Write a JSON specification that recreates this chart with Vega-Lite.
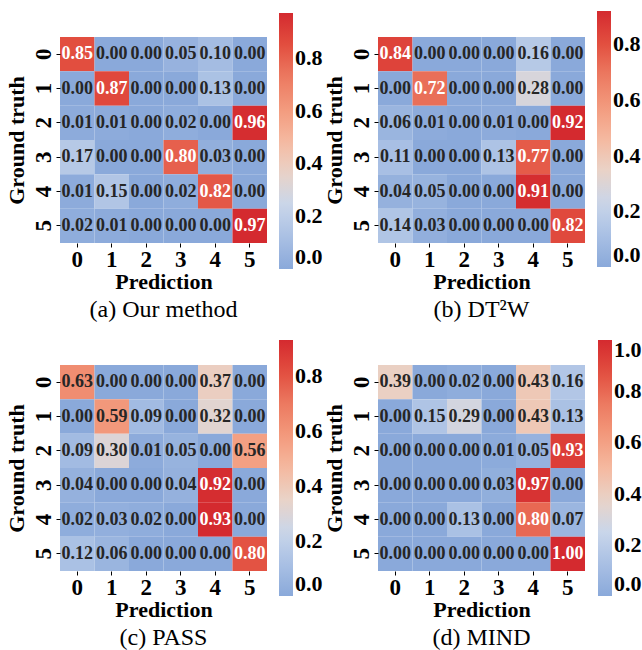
{
  "$schema": "https://vega.github.io/schema/vega-lite/v6.json",
  "background": "white",
  "padding": {"top": 11, "left": 5, "right": 5, "bottom": 5},
  "data": {"values": [
    {"m":"a","gt":0,"pred":0,"v":0.85},{"m":"a","gt":0,"pred":1,"v":0.00},{"m":"a","gt":0,"pred":2,"v":0.00},{"m":"a","gt":0,"pred":3,"v":0.05},{"m":"a","gt":0,"pred":4,"v":0.10},{"m":"a","gt":0,"pred":5,"v":0.00},
    {"m":"a","gt":1,"pred":0,"v":0.00},{"m":"a","gt":1,"pred":1,"v":0.87},{"m":"a","gt":1,"pred":2,"v":0.00},{"m":"a","gt":1,"pred":3,"v":0.00},{"m":"a","gt":1,"pred":4,"v":0.13},{"m":"a","gt":1,"pred":5,"v":0.00},
    {"m":"a","gt":2,"pred":0,"v":0.01},{"m":"a","gt":2,"pred":1,"v":0.01},{"m":"a","gt":2,"pred":2,"v":0.00},{"m":"a","gt":2,"pred":3,"v":0.02},{"m":"a","gt":2,"pred":4,"v":0.00},{"m":"a","gt":2,"pred":5,"v":0.96},
    {"m":"a","gt":3,"pred":0,"v":0.17},{"m":"a","gt":3,"pred":1,"v":0.00},{"m":"a","gt":3,"pred":2,"v":0.00},{"m":"a","gt":3,"pred":3,"v":0.80},{"m":"a","gt":3,"pred":4,"v":0.03},{"m":"a","gt":3,"pred":5,"v":0.00},
    {"m":"a","gt":4,"pred":0,"v":0.01},{"m":"a","gt":4,"pred":1,"v":0.15},{"m":"a","gt":4,"pred":2,"v":0.00},{"m":"a","gt":4,"pred":3,"v":0.02},{"m":"a","gt":4,"pred":4,"v":0.82},{"m":"a","gt":4,"pred":5,"v":0.00},
    {"m":"a","gt":5,"pred":0,"v":0.02},{"m":"a","gt":5,"pred":1,"v":0.01},{"m":"a","gt":5,"pred":2,"v":0.00},{"m":"a","gt":5,"pred":3,"v":0.00},{"m":"a","gt":5,"pred":4,"v":0.00},{"m":"a","gt":5,"pred":5,"v":0.97},

    {"m":"b","gt":0,"pred":0,"v":0.84},{"m":"b","gt":0,"pred":1,"v":0.00},{"m":"b","gt":0,"pred":2,"v":0.00},{"m":"b","gt":0,"pred":3,"v":0.00},{"m":"b","gt":0,"pred":4,"v":0.16},{"m":"b","gt":0,"pred":5,"v":0.00},
    {"m":"b","gt":1,"pred":0,"v":0.00},{"m":"b","gt":1,"pred":1,"v":0.72},{"m":"b","gt":1,"pred":2,"v":0.00},{"m":"b","gt":1,"pred":3,"v":0.00},{"m":"b","gt":1,"pred":4,"v":0.28},{"m":"b","gt":1,"pred":5,"v":0.00},
    {"m":"b","gt":2,"pred":0,"v":0.06},{"m":"b","gt":2,"pred":1,"v":0.01},{"m":"b","gt":2,"pred":2,"v":0.00},{"m":"b","gt":2,"pred":3,"v":0.01},{"m":"b","gt":2,"pred":4,"v":0.00},{"m":"b","gt":2,"pred":5,"v":0.92},
    {"m":"b","gt":3,"pred":0,"v":0.11},{"m":"b","gt":3,"pred":1,"v":0.00},{"m":"b","gt":3,"pred":2,"v":0.00},{"m":"b","gt":3,"pred":3,"v":0.13},{"m":"b","gt":3,"pred":4,"v":0.77},{"m":"b","gt":3,"pred":5,"v":0.00},
    {"m":"b","gt":4,"pred":0,"v":0.04},{"m":"b","gt":4,"pred":1,"v":0.05},{"m":"b","gt":4,"pred":2,"v":0.00},{"m":"b","gt":4,"pred":3,"v":0.00},{"m":"b","gt":4,"pred":4,"v":0.91},{"m":"b","gt":4,"pred":5,"v":0.00},
    {"m":"b","gt":5,"pred":0,"v":0.14},{"m":"b","gt":5,"pred":1,"v":0.03},{"m":"b","gt":5,"pred":2,"v":0.00},{"m":"b","gt":5,"pred":3,"v":0.00},{"m":"b","gt":5,"pred":4,"v":0.00},{"m":"b","gt":5,"pred":5,"v":0.82},

    {"m":"c","gt":0,"pred":0,"v":0.63},{"m":"c","gt":0,"pred":1,"v":0.00},{"m":"c","gt":0,"pred":2,"v":0.00},{"m":"c","gt":0,"pred":3,"v":0.00},{"m":"c","gt":0,"pred":4,"v":0.37},{"m":"c","gt":0,"pred":5,"v":0.00},
    {"m":"c","gt":1,"pred":0,"v":0.00},{"m":"c","gt":1,"pred":1,"v":0.59},{"m":"c","gt":1,"pred":2,"v":0.09},{"m":"c","gt":1,"pred":3,"v":0.00},{"m":"c","gt":1,"pred":4,"v":0.32},{"m":"c","gt":1,"pred":5,"v":0.00},
    {"m":"c","gt":2,"pred":0,"v":0.09},{"m":"c","gt":2,"pred":1,"v":0.30},{"m":"c","gt":2,"pred":2,"v":0.01},{"m":"c","gt":2,"pred":3,"v":0.05},{"m":"c","gt":2,"pred":4,"v":0.00},{"m":"c","gt":2,"pred":5,"v":0.56},
    {"m":"c","gt":3,"pred":0,"v":0.04},{"m":"c","gt":3,"pred":1,"v":0.00},{"m":"c","gt":3,"pred":2,"v":0.00},{"m":"c","gt":3,"pred":3,"v":0.04},{"m":"c","gt":3,"pred":4,"v":0.92},{"m":"c","gt":3,"pred":5,"v":0.00},
    {"m":"c","gt":4,"pred":0,"v":0.02},{"m":"c","gt":4,"pred":1,"v":0.03},{"m":"c","gt":4,"pred":2,"v":0.02},{"m":"c","gt":4,"pred":3,"v":0.00},{"m":"c","gt":4,"pred":4,"v":0.93},{"m":"c","gt":4,"pred":5,"v":0.00},
    {"m":"c","gt":5,"pred":0,"v":0.12},{"m":"c","gt":5,"pred":1,"v":0.06},{"m":"c","gt":5,"pred":2,"v":0.00},{"m":"c","gt":5,"pred":3,"v":0.00},{"m":"c","gt":5,"pred":4,"v":0.00},{"m":"c","gt":5,"pred":5,"v":0.80},

    {"m":"d","gt":0,"pred":0,"v":0.39},{"m":"d","gt":0,"pred":1,"v":0.00},{"m":"d","gt":0,"pred":2,"v":0.02},{"m":"d","gt":0,"pred":3,"v":0.00},{"m":"d","gt":0,"pred":4,"v":0.43},{"m":"d","gt":0,"pred":5,"v":0.16},
    {"m":"d","gt":1,"pred":0,"v":0.00},{"m":"d","gt":1,"pred":1,"v":0.15},{"m":"d","gt":1,"pred":2,"v":0.29},{"m":"d","gt":1,"pred":3,"v":0.00},{"m":"d","gt":1,"pred":4,"v":0.43},{"m":"d","gt":1,"pred":5,"v":0.13},
    {"m":"d","gt":2,"pred":0,"v":0.00},{"m":"d","gt":2,"pred":1,"v":0.00},{"m":"d","gt":2,"pred":2,"v":0.00},{"m":"d","gt":2,"pred":3,"v":0.01},{"m":"d","gt":2,"pred":4,"v":0.05},{"m":"d","gt":2,"pred":5,"v":0.93},
    {"m":"d","gt":3,"pred":0,"v":0.00},{"m":"d","gt":3,"pred":1,"v":0.00},{"m":"d","gt":3,"pred":2,"v":0.00},{"m":"d","gt":3,"pred":3,"v":0.03},{"m":"d","gt":3,"pred":4,"v":0.97},{"m":"d","gt":3,"pred":5,"v":0.00},
    {"m":"d","gt":4,"pred":0,"v":0.00},{"m":"d","gt":4,"pred":1,"v":0.00},{"m":"d","gt":4,"pred":2,"v":0.13},{"m":"d","gt":4,"pred":3,"v":0.00},{"m":"d","gt":4,"pred":4,"v":0.80},{"m":"d","gt":4,"pred":5,"v":0.07},
    {"m":"d","gt":5,"pred":0,"v":0.00},{"m":"d","gt":5,"pred":1,"v":0.00},{"m":"d","gt":5,"pred":2,"v":0.00},{"m":"d","gt":5,"pred":3,"v":0.00},{"m":"d","gt":5,"pred":4,"v":0.00},{"m":"d","gt":5,"pred":5,"v":1.00}
  ]},
  "columns": 2,
  "concat": [
    {
      "width": 207, "height": 206,
      "title": {"text": "(a) Our method"},
      "transform": [{"filter": "datum.m == 'a'"}],
      "encoding": {
        "x": {"field": "pred", "type": "ordinal", "title": "Prediction"},
        "y": {"field": "gt", "type": "ordinal", "title": "Ground truth"}
      },
      "layer": [
        {"mark": "rect", "encoding": {"color": {"field": "v", "type": "quantitative",
          "scale": {"domain": [0, 0.97], "interpolate": "rgb", "range": ["#8aa9da", "#a9c0e4", "#c9d6ea", "#e9d3c8", "#f5b9a0", "#f39a7d", "#ec7a61", "#e24e3f", "#d42a2f"]},
          "legend": {"values": [0, 0.2, 0.4, 0.6, 0.8], "legendX": 219, "legendY": -24}}}},
        {"mark": {"type": "text"}, "encoding": {"text": {"field": "v", "type": "quantitative", "format": ".2f"},
          "color": {"condition": {"test": "datum.v > 0.65", "value": "white"}, "value": "#262626"}}}
      ]
    },
    {
      "width": 207, "height": 206,
      "title": {"text": "(b) DT²W"},
      "transform": [{"filter": "datum.m == 'b'"}],
      "encoding": {
        "x": {"field": "pred", "type": "ordinal", "title": "Prediction"},
        "y": {"field": "gt", "type": "ordinal", "title": "Ground truth"}
      },
      "layer": [
        {"mark": "rect", "encoding": {"color": {"field": "v", "type": "quantitative",
          "scale": {"domain": [0, 0.92], "interpolate": "rgb", "range": ["#8aa9da", "#a9c0e4", "#c9d6ea", "#e9d3c8", "#f5b9a0", "#f39a7d", "#ec7a61", "#e24e3f", "#d42a2f"]},
          "legend": {"values": [0, 0.2, 0.4, 0.6, 0.8], "legendX": 219, "legendY": -26}}}},
        {"mark": {"type": "text"}, "encoding": {"text": {"field": "v", "type": "quantitative", "format": ".2f"},
          "color": {"condition": {"test": "datum.v > 0.65", "value": "white"}, "value": "#262626"}}}
      ]
    },
    {
      "width": 207, "height": 206,
      "title": {"text": "(c) PASS"},
      "transform": [{"filter": "datum.m == 'c'"}],
      "encoding": {
        "x": {"field": "pred", "type": "ordinal", "title": "Prediction"},
        "y": {"field": "gt", "type": "ordinal", "title": "Ground truth"}
      },
      "layer": [
        {"mark": "rect", "encoding": {"color": {"field": "v", "type": "quantitative",
          "scale": {"domain": [0, 0.93], "interpolate": "rgb", "range": ["#8aa9da", "#a9c0e4", "#c9d6ea", "#e9d3c8", "#f5b9a0", "#f39a7d", "#ec7a61", "#e24e3f", "#d42a2f"]},
          "legend": {"values": [0, 0.2, 0.4, 0.6, 0.8], "legendX": 219, "legendY": -25}}}},
        {"mark": {"type": "text"}, "encoding": {"text": {"field": "v", "type": "quantitative", "format": ".2f"},
          "color": {"condition": {"test": "datum.v > 0.65", "value": "white"}, "value": "#262626"}}}
      ]
    },
    {
      "width": 207, "height": 206,
      "title": {"text": "(d) MIND"},
      "transform": [{"filter": "datum.m == 'd'"}],
      "encoding": {
        "x": {"field": "pred", "type": "ordinal", "title": "Prediction"},
        "y": {"field": "gt", "type": "ordinal", "title": "Ground truth"}
      },
      "layer": [
        {"mark": "rect", "encoding": {"color": {"field": "v", "type": "quantitative",
          "scale": {"domain": [0, 1.0], "interpolate": "rgb", "range": ["#8aa9da", "#a9c0e4", "#c9d6ea", "#e9d3c8", "#f5b9a0", "#f39a7d", "#ec7a61", "#e24e3f", "#d42a2f"]},
          "legend": {"values": [0, 0.2, 0.4, 0.6, 0.8, 1.0], "legendX": 220, "legendY": -25}}}},
        {"mark": {"type": "text"}, "encoding": {"text": {"field": "v", "type": "quantitative", "format": ".2f"},
          "color": {"condition": {"test": "datum.v > 0.65", "value": "white"}, "value": "#262626"}}}
      ]
    }
  ],
  "spacing": {"row": 122, "column": 111},
  "bounds": "flush",
  "resolve": {"scale": {"color": "independent"}, "legend": {"color": "independent"}},
  "config": {
    "view": {"stroke": null},
    "text": {"font": "Liberation Serif", "fontWeight": "bold", "fontSize": 18},
    "axis": {"labelFont": "Liberation Serif", "labelFontWeight": "bold", "labelFontSize": 23, "labelColor": "black",
      "titleFont": "Liberation Serif", "titleFontWeight": "bold", "titleFontSize": 22, "titleColor": "black",
      "domain": false, "ticks": true, "tickSize": 4, "tickColor": "black", "labelPadding": 1},
    "axisX": {"labelAngle": 0, "titlePadding": 0},
    "axisY": {"labelAngle": 270, "titlePadding": 4},
    "legend": {"orient": "none", "title": null, "gradientLength": 256, "gradientThickness": 14, "gradientStrokeWidth": 0,
      "labelFont": "Liberation Serif", "labelFontSize": 22, "labelFontWeight": "bold", "labelColor": "black", "labelOffset": 4, "format": ".1f", "padding": 0},
    "title": {"orient": "bottom", "font": "Liberation Serif", "fontWeight": "normal", "fontSize": 24, "color": "black", "offset": 6, "anchor": "middle"}
  }
}
